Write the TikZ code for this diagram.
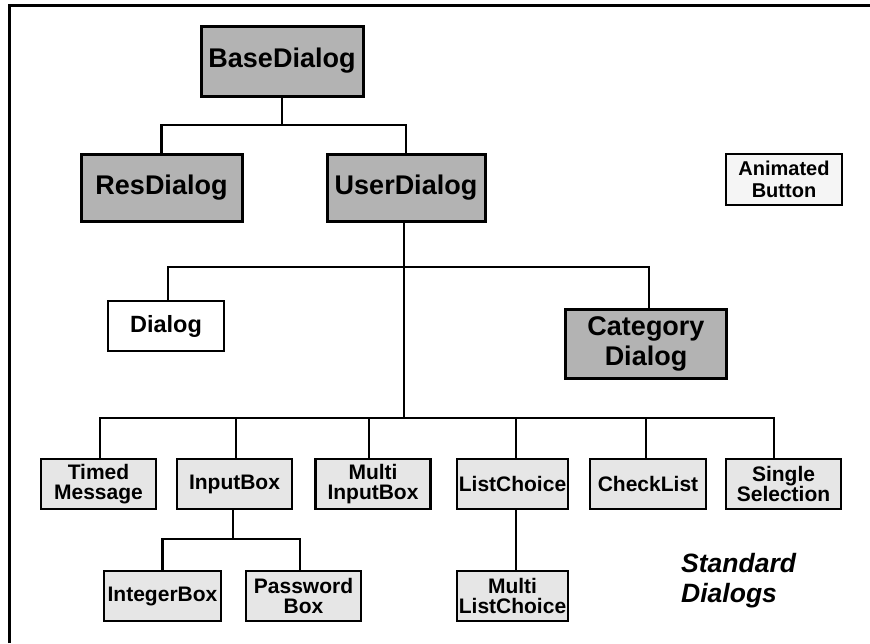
\documentclass[tikz,border=0pt]{standalone}
\usepackage{fontspec}
\setmainfont{Liberation Sans}
\definecolor{darkfill}{HTML}{B3B3B3}
\definecolor{lightfill}{HTML}{E6E6E6}
\definecolor{paperfill}{HTML}{F5F5F5}
\begin{document}
\begin{tikzpicture}[x=1pt,y=-1pt,
  classbox/.style={draw, align=center, inner sep=0pt, font=\bfseries},
  majorbox/.style={classbox, fill=darkfill, line width=3pt,
    font=\bfseries\fontsize{27}{30}\selectfont},
  plainbox/.style={classbox, fill=white, line width=2.2pt,
    font=\bfseries\fontsize{23.5}{25}\selectfont},
  stdbox/.style={classbox, fill=lightfill, line width=2.2pt,
    minimum width=115pt, minimum height=50pt,
    font=\bfseries\fontsize{21}{20}\selectfont},
  link/.style={line width=2.2pt},
  frameline/.style={line width=3pt}]
  \useasboundingbox (0,0) rectangle (870,643);

  % page corner rules
  \draw[frameline] (9,643) -- (9,5) -- (870,5);

  % top levels
  \node[majorbox, minimum width=162pt, minimum height=70pt] (base) at (282,61) {BaseDialog};
  \node[majorbox, minimum width=161pt, minimum height=67pt] (res) at (161.5,187.5) {ResDialog};
  \node[majorbox, minimum width=158pt, minimum height=67pt] (user) at (406,187.5) {UserDialog};

  \node[plainbox, minimum width=116pt, minimum height=50pt] (dialog) at (166,326) {Dialog};
  \node[majorbox, minimum width=161pt, minimum height=69pt] (cat) at (646,343.5) {Category\\Dialog};

  \node[classbox, fill=paperfill, line width=2.5pt, minimum width=116pt, minimum height=51pt,
    font=\bfseries\fontsize{20}{22}\selectfont] (anim) at (784,179.5) {Animated\\Button};

  % standard dialogs row
  \node[stdbox] (timed) at (98.5,484) {Timed\\Message};
  \node[stdbox] (input) at (234.5,484) {InputBox};
  \node[stdbox] (minput) at (373,484) {Multi\\InputBox};
  \node[stdbox, minimum width=111pt] (list) at (512.5,484) {ListChoice};
  \node[stdbox, minimum width=116pt] (check) at (648,484) {CheckList};
  \node[stdbox] (single) at (783.5,484) {Single\\Selection};

  % derived row
  \node[stdbox, minimum width=117pt] (integer) at (162.5,596) {IntegerBox};
  \node[stdbox] (password) at (303.5,596) {Password\\Box};
  \node[stdbox, minimum width=111pt] (mlist) at (512.5,596) {Multi\\ListChoice};

  \node[anchor=north west, inner sep=0pt, align=left,
    font=\bfseries\itshape\fontsize{26.5}{30}\selectfont] (caption) at (681,553) {Standard\\Dialogs};

  % junction points of the tree
  \coordinate (j1) at (284,125);
  \coordinate (j2) at (404,267);
  \coordinate (j3) at (404,418);
  \coordinate (j4) at (233,539);

  % connectors
  \draw[link] (base.south) -- (base.south |- j1);
  \draw[link] (res.north) |- (j1) -| (user.north);
  \draw[link] ([xshift=-2pt]user.south) -- (j3);
  \draw[link] ([xshift=2pt]dialog.north) |- (j2) -| ([xshift=3pt]cat.north);
  \draw[link] ([xshift=1.5pt]timed.north) |- (j3) -| ([xshift=-9.5pt]single.north);
  \draw[link] ([xshift=1.5pt]input.north) -- ([xshift=1.5pt]input.north |- j3);
  \draw[link] ([xshift=-4pt]minput.north) -- ([xshift=-4pt]minput.north |- j3);
  \draw[link] ([xshift=3.5pt]list.north) -- ([xshift=3.5pt]list.north |- j3);
  \draw[link] ([xshift=-2pt]check.north) -- ([xshift=-2pt]check.north |- j3);
  \draw[link] ([xshift=-1.5pt]input.south) -- (j4);
  \draw[link] (integer.north) |- (j4) -| ([xshift=-3.5pt]password.north);
  \draw[link] ([xshift=3.5pt]list.south) -- ([xshift=3.5pt]mlist.north);
\end{tikzpicture}
\end{document}
